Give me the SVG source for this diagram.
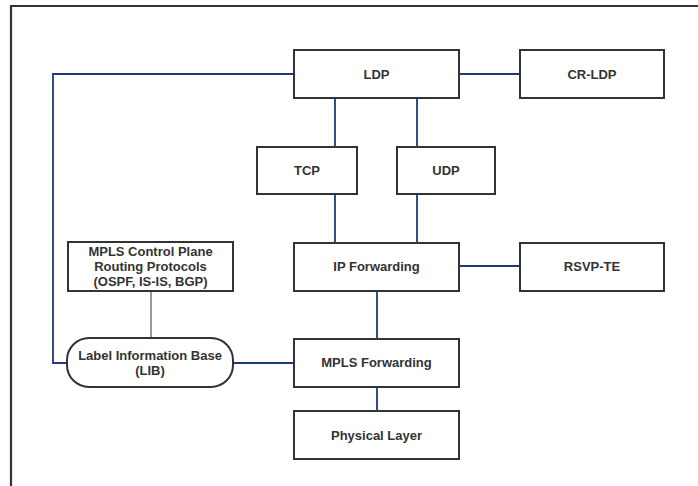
<svg xmlns="http://www.w3.org/2000/svg" width="698" height="486" viewBox="0 0 698 486">
  <style>
    .box { fill: #ffffff; stroke: #333333; stroke-width: 2; }
    .lbl { font-family: "Liberation Sans", Arial, sans-serif; font-weight: bold; font-size: 13px; fill: #333333; text-anchor: middle; }
    .link { fill: none; stroke: #1f3a7a; stroke-width: 1.8; }
    .thin { fill: none; stroke: #555555; stroke-width: 1.2; }
  </style>
  <rect x="0" y="0" width="698" height="486" fill="#ffffff"/>
  <!-- page frame -->
  <path d="M11,486 V6 H698" fill="none" stroke="#333333" stroke-width="2.2"/>

  <g id="connectors">
    <!-- LDP to LIB around the left side -->
    <polyline class="link" points="294,74 53,74 53,363 67,363"/>
    <line class="link" x1="459" y1="74" x2="520" y2="74"/>
    <line class="link" x1="335" y1="98" x2="335" y2="147"/>
    <line class="link" x1="417" y1="98" x2="417" y2="147"/>
    <line class="link" x1="335" y1="194" x2="335" y2="243"/>
    <line class="link" x1="417" y1="194" x2="417" y2="243"/>
    <line class="link" x1="459" y1="266" x2="520" y2="266"/>
    <line class="link" x1="377" y1="291" x2="377" y2="339"/>
    <line class="link" x1="377" y1="387" x2="377" y2="411"/>
    <line class="link" x1="233" y1="363" x2="294" y2="363"/>
    <line class="thin" x1="151" y1="291" x2="151" y2="338"/>
  </g>

  <g id="ldp">
    <rect class="box" x="294" y="50" width="165" height="48"/>
    <text class="lbl" x="376.5" y="78.5">LDP</text>
  </g>
  <g id="cr-ldp">
    <rect class="box" x="520" y="50" width="144" height="48"/>
    <text class="lbl" x="592" y="78.5">CR-LDP</text>
  </g>
  <g id="tcp">
    <rect class="box" x="257" y="147" width="100" height="47"/>
    <text class="lbl" x="307" y="175">TCP</text>
  </g>
  <g id="udp">
    <rect class="box" x="397" y="147" width="98" height="47"/>
    <text class="lbl" x="446" y="175">UDP</text>
  </g>
  <g id="ip-forwarding">
    <rect class="box" x="294" y="243" width="165" height="48"/>
    <text class="lbl" x="376.5" y="271">IP Forwarding</text>
  </g>
  <g id="rsvp-te">
    <rect class="box" x="520" y="243" width="144" height="48"/>
    <text class="lbl" x="592" y="271">RSVP-TE</text>
  </g>
  <g id="mpls-control-plane">
    <rect class="box" x="68" y="242" width="165" height="49"/>
    <text class="lbl" x="150.5" y="255.5">MPLS Control Plane</text>
    <text class="lbl" x="150.5" y="270.5">Routing Protocols</text>
    <text class="lbl" x="150.5" y="285.5">(OSPF, IS-IS, BGP)</text>
  </g>
  <g id="lib">
    <rect class="box" x="67" y="338" width="166" height="49" rx="22" ry="22"/>
    <text class="lbl" x="150" y="359.5">Label Information Base</text>
    <text class="lbl" x="150" y="375">(LIB)</text>
  </g>
  <g id="mpls-forwarding">
    <rect class="box" x="294" y="339" width="165" height="48"/>
    <text class="lbl" x="376.5" y="367">MPLS Forwarding</text>
  </g>
  <g id="physical-layer">
    <rect class="box" x="294" y="411" width="165" height="48"/>
    <text class="lbl" x="376.5" y="439.5">Physical Layer</text>
  </g>
</svg>
